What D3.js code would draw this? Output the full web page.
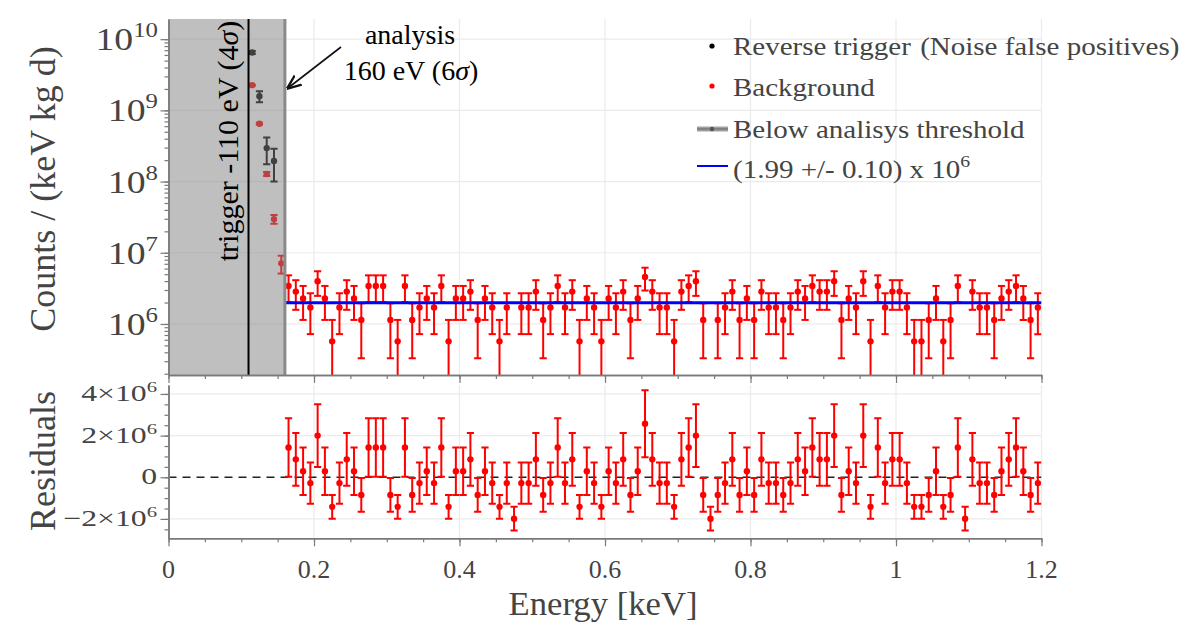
<!DOCTYPE html>
<html><head><meta charset="utf-8">
<script src="https://cdn.jsdelivr.net/npm/d3@7"></script>
<style>body{margin:0;background:#fff}svg{display:block;font-family:"Liberation Serif",serif}</style>
</head><body><svg id="c" width="1198" height="625"></svg>
<script>
// ---------- data ----------
const energies = [
 0.165,0.175,0.185,0.195,0.205,0.215,0.225,0.235,0.245,0.255,
 0.265,0.275,0.285,0.295,0.305,0.315,0.325,0.335,0.345,0.355,
 0.365,0.375,0.385,0.395,0.405,0.415,0.425,0.435,0.445,0.455,
 0.465,0.475,0.485,0.495,0.505,0.515,0.525,0.535,0.545,0.555,
 0.565,0.575,0.585,0.595,0.605,0.615,0.625,0.635,0.645,0.655,
 0.665,0.675,0.685,0.695,0.705,0.715,0.725,0.735,0.745,0.755,
 0.765,0.775,0.785,0.795,0.805,0.815,0.825,0.835,0.845,0.855,
 0.865,0.875,0.885,0.895,0.905,0.915,0.925,0.935,0.945,0.955,
 0.965,0.975,0.985,0.995,1.005,1.015,1.025,1.035,1.045,1.055,
 1.065,1.075,1.085,1.095,1.105,1.115,1.125,1.135,1.145,1.155,
 1.165,1.175,1.185,1.195];
// background counts (units of 1e6 counts/(keV kg d))
const bgValues = [
 3.42,2.85,2.28,1.71,3.99,2.28,0.57,1.71,2.85,2.28,
 1.14,3.42,3.42,3.42,1.14,0.57,3.42,1.14,1.71,2.28,
 1.71,3.42,0.57,2.28,2.28,2.85,1.14,2.28,1.71,0.57,
 1.71,0,1.71,1.71,2.85,1.14,1.71,3.42,1.71,2.85,
 0.57,2.28,1.71,0.57,2.28,1.71,2.85,1.14,2.28,4.56,
 2.85,1.71,1.71,0.57,2.85,3.42,3.99,1.14,0,1.14,
 1.71,2.85,1.14,2.28,1.14,2.85,1.71,1.71,1.14,1.71,
 2.85,2.28,3.42,2.85,2.85,3.99,1.14,2.28,1.71,3.99,
 0.57,3.42,1.71,2.85,2.85,1.71,0.57,0.57,1.14,2.28,
 0.57,1.14,3.42,0,2.85,1.71,1.71,1.14,2.28,2.85,
 3.42,2.28,1.14,1.71];
const bgErrors = [
 1.40,1.27,1.14,0.99,1.51,1.14,0.57,0.99,1.27,1.14,
 0.81,1.40,1.40,1.40,0.81,0.57,1.40,0.81,0.99,1.14,
 0.99,1.40,0.57,1.14,1.14,1.27,0.81,1.14,0.99,0.57,
 0.99,0.57,0.99,0.99,1.27,0.81,0.99,1.40,0.99,1.27,
 0.57,1.14,0.99,0.57,1.14,0.99,1.27,0.81,1.14,1.61,
 1.27,0.99,0.99,0.57,1.27,1.40,1.51,0.81,0.57,0.81,
 0.99,1.27,0.81,1.14,0.81,1.27,0.99,0.99,0.81,0.99,
 1.27,1.14,1.40,1.27,1.27,1.51,0.81,1.14,0.99,1.51,
 0.57,1.40,0.99,1.27,1.27,0.99,0.57,0.57,0.81,1.14,
 0.57,0.81,1.40,0.57,1.27,0.99,0.99,0.81,1.14,1.27,
 1.40,1.14,0.81,0.99];
const residuals = [
 1.43,0.86,0.29,-0.28,2.00,0.29,-1.42,-0.28,0.86,0.29,
 -0.85,1.43,1.43,1.43,-0.85,-1.42,1.43,-0.85,-0.28,0.29,
 -0.28,1.43,-1.42,0.29,0.29,0.86,-0.85,0.29,-0.28,-1.42,
 -0.28,-1.99,-0.28,-0.28,0.86,-0.85,-0.28,1.43,-0.28,0.86,
 -1.42,0.29,-0.28,-1.42,0.29,-0.28,0.86,-0.85,0.29,2.57,
 0.86,-0.28,-0.28,-1.42,0.86,1.43,2.00,-0.85,-1.99,-0.85,
 -0.28,0.86,-0.85,0.29,-0.85,0.86,-0.28,-0.28,-0.85,-0.28,
 0.86,0.29,1.43,0.86,0.86,2.00,-0.85,0.29,-0.28,2.00,
 -1.42,1.43,-0.28,0.86,0.86,-0.28,-1.42,-1.42,-0.85,0.29,
 -1.42,-0.85,1.43,-1.99,0.86,-0.28,-0.28,-0.85,0.29,0.86,
 1.43,0.29,-0.85,-0.28];
// below analysis threshold
const lowEnergies = [0.115,0.125,0.135,0.145,0.155];
const lowBgValues = [2.26e9,6.5e8,1.28e8,2.97e7,7.1e6];
const lowBgErrors = [3.6e7,1.9e7,8.5e6,4.1e6,2.0e6];
const revEnergies = [0.115,0.125,0.135,0.145];
const revValues = [6.5e9,1.58e9,2.95e8,1.95e8];
const revErrors = [0.3e9,0.28e9,1.2e8,0.95e8];
const fitValue = 1.99e6;
const fitRange = [0.16, 1.2];
const triggerE = 0.11, analysisE = 0.16;
const xTicks = [0,0.2,0.4,0.6,0.8,1,1.2];
const xTickLabels = ["0","0.2","0.4","0.6","0.8","1","1.2"];
const yTopDecades = [6,7,8,9,10];
const yResTicks = [-2e6,0,2e6,4e6];
const yResTickLabels = [["\u22122\u00d710","6"],["0",""],["2\u00d710","6"],["4\u00d710","6"]];
const legendLabels = ["Reverse trigger","Background","Below analisys threshold","(1.99 +/- 0.10) x 10"];

// ---------- layout ----------
const svg = d3.select("#c");
const x = d3.scaleLinear([0,1.2],[168.5,1041.5]);
const yT = d3.scaleLog([1.92e5,1.92e10],[375,19]);
const yR = d3.scaleLinear([-2.93e6,4.43e6],[538.3,385]);
const grid = "#ebebeb", axisCol = "#7a7a7a", txt = "#444";
const RED = "#ff0000";

svg.append("defs").html(`
 <clipPath id="clipT"><rect x="${x(0)}" y="${yT.range()[1]}" width="${x(1.2)-x(0)}" height="${yT.range()[0]-yT.range()[1]}"/></clipPath>
 <clipPath id="clipR"><rect x="${x(0)}" y="${yR.range()[1]}" width="${x(1.2)-x(0)}" height="${yR.range()[0]-yR.range()[1]}"/></clipPath>
 <marker id="arr" viewBox="0 0 10 10" refX="9" refY="5" markerWidth="9" markerHeight="9" orient="auto"><path d="M0,1 L10,5 L0,9" fill="none" stroke="#111" stroke-width="1.6"/></marker>`);

// gridlines
const gT = svg.append("g");
xTicks.slice(1).forEach(t=>gT.append("line").attr("x1",x(t)).attr("x2",x(t)).attr("y1",yT.range()[1]).attr("y2",yT.range()[0]).attr("stroke",grid).attr("stroke-width",1.2));
yTopDecades.forEach(d=>gT.append("line").attr("x1",x(0)).attr("x2",x(1.2)).attr("y1",yT(Math.pow(10,d))).attr("y2",yT(Math.pow(10,d))).attr("stroke",grid).attr("stroke-width",1.2));
const gR = svg.append("g");
xTicks.slice(1).forEach(t=>gR.append("line").attr("x1",x(t)).attr("x2",x(t)).attr("y1",yR.range()[1]).attr("y2",yR.range()[0]).attr("stroke",grid).attr("stroke-width",1.2));
yResTicks.filter(v=>v!==0).forEach(v=>gR.append("line").attr("x1",x(0)).attr("x2",x(1.2)).attr("y1",yR(v)).attr("y2",yR(v)).attr("stroke",grid).attr("stroke-width",1.2));

// error bar helper
function errBars(g, pts, col, cap, w){
  const sel = g.selectAll(null).data(pts).enter().append("g");
  sel.append("line").attr("x1",d=>d.x).attr("x2",d=>d.x).attr("y1",d=>d.y1).attr("y2",d=>d.y2).attr("stroke",col).attr("stroke-width",w);
  sel.append("line").attr("x1",d=>d.x-cap).attr("x2",d=>d.x+cap).attr("y1",d=>d.y1).attr("y2",d=>d.y1).attr("stroke",col).attr("stroke-width",w);
  sel.append("line").attr("x1",d=>d.x-cap).attr("x2",d=>d.x+cap).attr("y1",d=>d.y2).attr("y2",d=>d.y2).attr("stroke",col).attr("stroke-width",w);
  sel.append("circle").attr("cx",d=>d.x).attr("cy",d=>d.y).attr("r",3.2).attr("fill",col);
}
const bottomT = yT.range()[0]+20;
function yTs(v){ return v>0 ? yT(v) : bottomT; }

// top panel data
const pT = svg.append("g").attr("clip-path","url(#clipT)");
const topPts = energies.map((e,i)=>({e,v:bgValues[i]*1e6,err:bgErrors[i]*1e6})).filter(d=>d.v>0)
  .map(d=>({x:x(d.e),y:yT(d.v),y1:yTs(d.v+d.err),y2:yTs(d.v-d.err)}));
const lowPts = lowEnergies.map((e,i)=>({x:x(e),y:yT(lowBgValues[i]),y1:yT(lowBgValues[i]+lowBgErrors[i]),y2:yT(lowBgValues[i]-lowBgErrors[i])}));
const revPts = revEnergies.map((e,i)=>({x:x(e),y:yT(revValues[i]),y1:yT(revValues[i]+revErrors[i]),y2:yT(revValues[i]-revErrors[i])}));
errBars(pT, topPts, RED, 3.6, 2);
pT.append("line").attr("x1",x(fitRange[0])).attr("x2",x(fitRange[1])).attr("y1",yT(fitValue)).attr("y2",yT(fitValue)).attr("stroke","#0000ff").attr("stroke-width",3);
errBars(pT, lowPts, RED, 3.6, 2);
errBars(pT, revPts, "#000", 3.6, 2);
// gray overlay (below analysis threshold)
pT.append("rect").attr("x",x(0)).attr("y",yT.range()[1]).attr("width",x(analysisE)-x(0)).attr("height",yT.range()[0]-yT.range()[1]).attr("fill","#808080").attr("opacity",0.5);
pT.append("line").attr("x1",x(analysisE)).attr("x2",x(analysisE)).attr("y1",yT.range()[1]).attr("y2",yT.range()[0]).attr("stroke","#8a8a8a").attr("stroke-width",3);
pT.append("line").attr("x1",x(triggerE)).attr("x2",x(triggerE)).attr("y1",yT.range()[1]).attr("y2",yT.range()[0]).attr("stroke","#000").attr("stroke-width",2);

// residual panel
const pR = svg.append("g").attr("clip-path","url(#clipR)");
pR.append("line").attr("x1",x(0)).attr("x2",x(1.2)).attr("y1",yR(0)).attr("y2",yR(0)).attr("stroke","#222").attr("stroke-width",1.6).attr("stroke-dasharray","8,6");
const resPts = energies.map((e,i)=>({x:x(e),y:yR(residuals[i]*1e6),y1:yR((residuals[i]+bgErrors[i])*1e6),y2:yR((residuals[i]-bgErrors[i])*1e6)}));
errBars(pR, resPts, RED, 3.6, 2);

// axes
function styleAxis(g){ g.select(".domain").attr("stroke",axisCol).attr("stroke-width",1.5); g.selectAll(".tick line").attr("stroke",axisCol).attr("stroke-width",1.2); g.selectAll("text").remove(); }
const minorX = d3.range(0,25).map(i=>i*0.05);
[yT.range()[0], yR.range()[0]].forEach(yb=>{
  svg.append("g").attr("transform",`translate(0,${yb})`).call(d3.axisBottom(x).tickValues(minorX).tickSize(4).tickSizeOuter(0)).call(styleAxis);
  svg.append("g").attr("transform",`translate(0,${yb})`).call(d3.axisBottom(x).tickValues(xTicks).tickSize(8).tickSizeOuter(0)).call(styleAxis);
});
const logTicks = yT.ticks().filter(v=>v>=yT.domain()[0]&&v<=yT.domain()[1]);
const decadeVals = yTopDecades.map(d=>Math.pow(10,d));
svg.append("g").attr("transform",`translate(${x(0)},0)`).call(d3.axisLeft(yT).tickValues(logTicks).tickSize(4).tickSizeOuter(0)).call(styleAxis);
svg.append("g").attr("transform",`translate(${x(0)},0)`).call(d3.axisLeft(yT).tickValues(decadeVals).tickSize(8).tickSizeOuter(0)).call(styleAxis);
const minorR = d3.range(-5,9).map(i=>i*0.5e6);
svg.append("g").attr("transform",`translate(${x(0)},0)`).call(d3.axisLeft(yR).tickValues(minorR).tickSize(4).tickSizeOuter(0)).call(styleAxis);
svg.append("g").attr("transform",`translate(${x(0)},0)`).call(d3.axisLeft(yR).tickValues(yResTicks).tickSize(8).tickSizeOuter(0)).call(styleAxis);

// tick labels
xTicks.forEach((t,i)=>svg.append("text").attr("x",x(t)).attr("y",578).attr("text-anchor","middle").attr("font-size",26).attr("fill",txt).text(xTickLabels[i]));
yTopDecades.forEach(d=>{
  const t = svg.append("text").attr("transform",`translate(158,${yT(Math.pow(10,d))+11}) scale(1.18,1)`).attr("text-anchor","end").attr("font-size",32).attr("fill",txt);
  t.append("tspan").text("10");
  t.append("tspan").attr("dy",-13).attr("font-size",21).text(String(d));
});
yResTicks.forEach((v,i)=>{
  const t = svg.append("text").attr("transform",`translate(157,${yR(v)+7}) scale(1.38,1)`).attr("text-anchor","end").attr("font-size",23).attr("fill",txt);
  t.append("tspan").text(yResTickLabels[i][0]);
  if(yResTickLabels[i][1]) t.append("tspan").attr("dy",-9).attr("font-size",15).text(yResTickLabels[i][1]);
});

// axis titles
svg.append("text").attr("transform","translate(603,615) scale(1.05,1)").attr("text-anchor","middle").attr("font-size",33).attr("fill",txt).text("Energy [keV]");
svg.append("text").attr("transform","translate(43,189) rotate(-90)").attr("text-anchor","middle").attr("dominant-baseline","central").attr("font-size",36).attr("fill",txt).text("Counts / (keV kg d)");
svg.append("text").attr("transform","translate(43,461) rotate(-90)").attr("text-anchor","middle").attr("dominant-baseline","central").attr("font-size",36).attr("fill",txt).text("Residuals");

// annotations
const trig = svg.append("text").attr("transform","translate(227,141) rotate(-90)").attr("text-anchor","middle").attr("dominant-baseline","central").attr("font-size",30).attr("fill","#000");
trig.append("tspan").text("trigger -110 eV (4");
trig.append("tspan").attr("font-style","italic").text("\u03c3");
trig.append("tspan").text(")");
svg.append("text").attr("x",410).attr("y",44).attr("text-anchor","middle").attr("font-size",28).attr("fill","#000").text("analysis");
const an = svg.append("text").attr("x",411).attr("y",80).attr("text-anchor","middle").attr("font-size",28).attr("fill","#000");
an.append("tspan").text("160 eV (6");
an.append("tspan").attr("font-style","italic").text("\u03c3");
an.append("tspan").text(")");
svg.append("line").attr("x1",341).attr("y1",47).attr("x2",288).attr("y2",88).attr("stroke","#111").attr("stroke-width",1.6).attr("marker-end","url(#arr)");

// legend
const lg = svg.append("g").attr("font-size",25).attr("fill",txt);
const lx = 733, rows = [55,96,138,178], sx = 1.16;
lg.append("circle").attr("cx",712).attr("cy",46).attr("r",2.6).attr("fill","#000");
const l0 = lg.append("text").attr("transform",`translate(${lx},${rows[0]}) scale(${sx},1)`);
l0.append("tspan").text(legendLabels[0]);
l0.append("tspan").attr("dx",8).text("(Noise false positives)");
lg.append("circle").attr("cx",712).attr("cy",86).attr("r",2.6).attr("fill",RED);
lg.append("text").attr("transform",`translate(${lx},${rows[1]}) scale(${sx},1)`).text(legendLabels[1]);
lg.append("line").attr("x1",697).attr("x2",728).attr("y1",129).attr("y2",129).attr("stroke","#a0a0a0").attr("stroke-width",5);
lg.append("line").attr("x1",697).attr("x2",728).attr("y1",129).attr("y2",129).attr("stroke","#666").attr("stroke-width",1);
lg.append("circle").attr("cx",712).attr("cy",129).attr("r",2.2).attr("fill","#555");
lg.append("text").attr("transform",`translate(${lx},${rows[2]}) scale(${sx},1)`).text(legendLabels[2]);
lg.append("line").attr("x1",697).attr("x2",728).attr("y1",166).attr("y2",166).attr("stroke","#0000ff").attr("stroke-width",2);
const l3 = lg.append("text").attr("transform",`translate(${lx},${rows[3]}) scale(${sx},1)`);
l3.append("tspan").text(legendLabels[3]);
l3.append("tspan").attr("dy",-11).attr("font-size",17).text("6");
</script></body></html>
